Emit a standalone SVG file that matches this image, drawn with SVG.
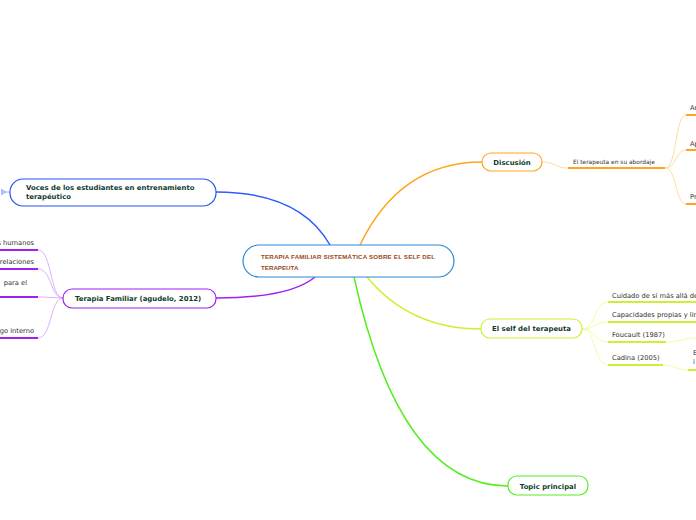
<svg xmlns="http://www.w3.org/2000/svg" width="696" height="520" viewBox="0 0 696 520">
<style>
.node{fill:#ffffff;stroke-width:1.2}
.nt{font-family:"DejaVu Sans",Verdana,sans-serif;font-weight:bold;font-size:6.9px;fill:#0f3b2c}
.ct{font-family:"Liberation Sans",Arial,sans-serif;font-weight:bold;font-size:6.2px;fill:#9a4a1c}
.lt{font-family:"DejaVu Sans",Verdana,sans-serif;font-size:6.7px;fill:#333333}
.st{font-family:"DejaVu Sans",Verdana,sans-serif;font-size:5.9px;fill:#333333}
.main{fill:none;stroke-width:1.5}
.thin{fill:none;stroke-width:0.8}
.ul{fill:none;stroke-width:2}
</style>
<rect width="696" height="520" fill="#ffffff"/>
<g id="connectors">
  <path class="main" stroke="#2b5cff" d="M216,192 Q300,192 330,245"/>
  <path class="main" stroke="#ffa51f" d="M360,245 Q400,162 482,162"/>
  <path class="main" stroke="#a020f0" d="M216,298 Q290,298 315,277"/>
  <path class="main" stroke="#55ee22" d="M354,277 Q400,486 508,486"/>
  <path class="main" stroke="#ccf033" d="M367,277 Q410,329 481,329"/>
  <path class="thin" stroke="#d49bff" d="M63,298 C50,298 52,250 38,250"/>
  <path class="thin" stroke="#d49bff" d="M63,298 C50,298 52,269 38,269"/>
  <path class="thin" stroke="#d49bff" d="M63,298 C55,298 50,297 38,297"/>
  <path class="thin" stroke="#d49bff" d="M63,298 C50,298 52,338 38,338"/>
  <path class="ul" stroke="#a020f0" d="M0,250 H38 M0,269 H38 M0,297 H38 M0,338 H38"/>
  <path class="thin" stroke="#ffd28a" d="M542,162 C555,162 555,168 568,168"/>
  <path class="ul" stroke="#ffa51f" d="M568,168 H665"/>
  <path class="thin" stroke="#ffd28a" d="M665,168 C677,168 675,115 686,115"/>
  <path class="thin" stroke="#ffd28a" d="M665,168 C677,168 675,150 686,150"/>
  <path class="thin" stroke="#ffd28a" d="M665,168 C677,168 675,204 686,204"/>
  <path class="ul" stroke="#ffa51f" d="M686,115 H696 M686,150 H696 M686,204 H696"/>
  <path class="thin" stroke="#e8ff8a" d="M582,329 C596,329 594,302 608,302"/>
  <path class="thin" stroke="#e8ff8a" d="M582,329 C596,329 594,322 608,322"/>
  <path class="thin" stroke="#e8ff8a" d="M582,329 C596,329 594,342 608,342"/>
  <path class="thin" stroke="#e8ff8a" d="M582,329 C596,329 594,365 608,365"/>
  <path class="ul" stroke="#ccf033" d="M608,302 H696 M608,322 H696 M608,342 H666 M608,365 H663 M688,370 H696"/>
  <path class="thin" stroke="#e8ff8a" d="M666,342 C680,342 684,338 696,338"/>
  <path class="thin" stroke="#e8ff8a" d="M663,365 C675,365 678,370 688,370"/>
  <path class="thin" stroke="#8aa8ff" d="M6,192 H10"/>
  <polygon points="1,188.5 7,192 1,195.5" fill="#a9bdff"/>
</g>
<g id="central">
  <rect class="node" x="243" y="245" width="211" height="32" rx="16" stroke="#2a8ad6"/>
  <text class="ct" x="261" y="259" textLength="174">TERAPIA FAMILIAR SISTEMÁTICA SOBRE EL SELF DEL</text>
  <text class="ct" x="261" y="270">TERAPEUTA</text>
</g>
<g id="voces">
  <rect class="node" x="10" y="179" width="206" height="27" rx="13" stroke="#2255ee"/>
  <text class="nt" x="26" y="190">Voces de los estudiantes en entrenamiento</text>
  <text class="nt" x="26" y="199">terapéutico</text>
</g>
<g id="terapia-familiar">
  <rect class="node" x="63" y="289" width="153" height="19" rx="9" stroke="#a020f0"/>
  <text class="nt" x="75" y="301">Terapia Familiar (agudelo, 2012)</text>
</g>
<g id="tf-children">
  <text class="lt" x="34" y="245" text-anchor="end">s humanos</text>
  <text class="lt" x="34" y="264" text-anchor="end">relaciones</text>
  <text class="lt" x="27" y="285" text-anchor="end">para el</text>
  <text class="lt" x="34" y="333" text-anchor="end">go interno</text>
</g>
<g id="discusion">
  <rect class="node" x="482" y="153" width="60" height="18" rx="9" stroke="#ffa51f"/>
  <text class="nt" x="512" y="164.5" text-anchor="middle">Discusión</text>
</g>
<g id="abordaje">
  <text class="st" x="573" y="164">El terapeuta en su abordaje</text>
  <text class="lt" x="690" y="110">Ar</text>
  <text class="lt" x="690" y="146">Ap</text>
  <text class="lt" x="690" y="199">Pr</text>
</g>
<g id="self">
  <rect class="node" x="481" y="319" width="101" height="19" rx="9" stroke="#ccf033"/>
  <text class="nt" x="531.5" y="331" text-anchor="middle">El self del terapeuta</text>
</g>
<g id="self-children">
  <text class="lt" x="612" y="298">Cuidado de sí más allá de</text>
  <text class="lt" x="612" y="317">Capacidades propias y lim</text>
  <text class="lt" x="612" y="337">Foucault (1987)</text>
  <text class="lt" x="612" y="360">Cadina (2005)</text>
  <text class="lt" x="693" y="355">E</text>
  <text class="lt" x="693" y="364">i</text>
</g>
<g id="topic">
  <rect class="node" x="508" y="476" width="80" height="19" rx="9" stroke="#55ee22"/>
  <text class="nt" x="548" y="488.5" text-anchor="middle">Topic principal</text>
</g>
</svg>
